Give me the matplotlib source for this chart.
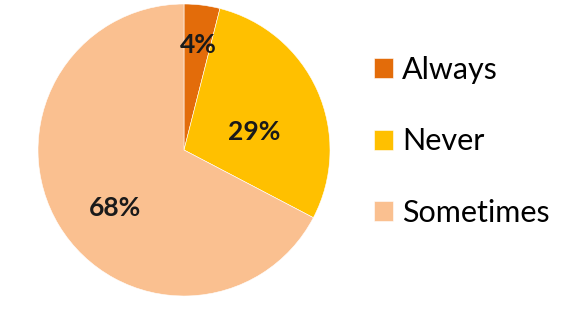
import matplotlib
matplotlib.use("Agg")
import matplotlib.pyplot as plt

categories = ["Always", "Never", "Sometimes"]
shares = [4, 29, 68]
colors = ["#E36C0A", "#FFC000", "#FAC090"]

# label anchor points inside each wedge (data units of a unit-radius pie)
label_xy = [(0.10, 0.72), (0.48, 0.12), (-0.47, -0.40)]

plt.rcParams["font.family"] = ["Lato", "DejaVu Sans"]

fig = plt.figure(figsize=(5.72, 3.23), dpi=100)
ax = fig.add_axes([38 / 572, 27 / 323, 292 / 572, 292 / 323])

wedges, _ = ax.pie(
    shares,
    colors=colors,
    startangle=90,
    counterclock=False,
    radius=1.0,
    wedgeprops=dict(edgecolor="white", linewidth=0.4),
)
for (x, y), v in zip(label_xy, shares):
    ax.text(x, y, f"{v}%", ha="center", va="center",
            fontsize=19, fontweight="bold", color="#1a1a1a")

ax.set_xlim(-1, 1)
ax.set_ylim(-1, 1)
ax.set_aspect("equal")

fig.legend(
    wedges, categories,
    loc="upper left", bbox_to_anchor=(374 / 572, 1 - 56 / 323),
    frameon=False, fontsize=22,
    handlelength=0.62, handleheight=0.62, handletextpad=0.3,
    labelspacing=1.42, borderpad=0, borderaxespad=0,
)

fig.savefig("out.png", dpi=100, facecolor="white")
